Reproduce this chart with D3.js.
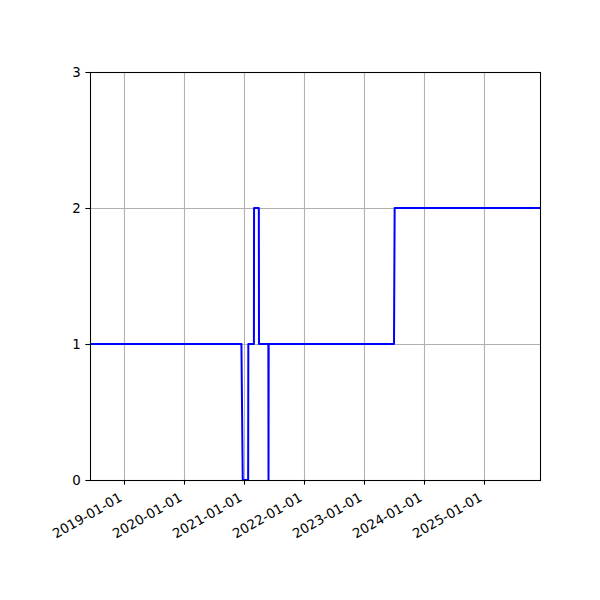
<!DOCTYPE html>
<html>
<head>
<meta charset="utf-8">
<script src="https://cdn.jsdelivr.net/npm/d3@7"></script>
<style>
  body { margin: 0; background: #ffffff; }
  text { font-family: "DejaVu Sans", sans-serif; font-size: 13.33px; fill: #000; }
</style>
</head>
<body>
<div id="chart"></div>
<script>
// data
let stepDates  = ["2018-06-06", "2020-12-14", "2020-12-22", "2021-01-24", "2021-01-25",
                  "2021-02-28", "2021-03-01", "2021-03-30", "2021-03-31", "2021-05-27",
                  "2021-05-28", "2021-05-29", "2023-07-01", "2023-07-05", "2025-12-06"];
let stepValues = [1, 1, 0, 0, 1,
                  1, 2, 2, 1, 1,
                  0, 1, 1, 2, 2];
let xTickDates = ["2019-01-01", "2020-01-01", "2021-01-01", "2022-01-01",
                  "2023-01-01", "2024-01-01", "2025-01-01"];
let yTicks     = [0, 1, 2, 3];
let xDomain    = ["2018-06-06", "2025-12-06"];
let yDomain    = [0, 3];

let W = 600, H = 600;
let pLeft = 90, pRight = 540, pTop = 72, pBottom = 480;
let parse = d3.utcParse("%Y-%m-%d");

let svg = d3.select("#chart").append("svg")
    .attr("width", W)
    .attr("height", H);

svg.append("rect")
    .attr("width", W).attr("height", H)
    .attr("fill", "#ffffff");

let x = d3.scaleUtc()
    .domain(xDomain.map(parse))
    .range([pLeft, pRight]);

let y = d3.scaleLinear()
    .domain(yDomain)
    .range([pBottom, pTop]);

// grid (snapped to pixel centres like matplotlib)
let snap = v => Math.round(v) + 0.5;
let grid = svg.append("g")
    .attr("stroke", "#b0b0b0")
    .attr("stroke-width", 1.07);

grid.selectAll(".gx")
    .data(xTickDates.map(parse))
    .enter().append("line")
        .attr("x1", d => snap(x(d))).attr("x2", d => snap(x(d)))
        .attr("y1", pTop).attr("y2", pBottom);

grid.selectAll(".gy")
    .data(yTicks)
    .enter().append("line")
        .attr("x1", pLeft).attr("x2", pRight)
        .attr("y1", d => snap(y(d))).attr("y2", d => snap(y(d)));

// the series
let pts = stepDates.map((d, i) => ({ date: parse(d), val: stepValues[i] }));

let line = d3.line()
    .x(d => x(d.date))
    .y(d => y(d.val));

svg.append("path")
    .datum(pts)
    .attr("d", line)
    .attr("fill", "none")
    .attr("stroke", "#0000ff")
    .attr("stroke-width", 2)
    .attr("stroke-linejoin", "round");

// axes
let fmt = d3.utcFormat("%Y-%m-%d");

let xAxis = svg.append("g")
    .attr("transform", "translate(0," + pBottom + ")")
    .call(d3.axisBottom(x)
        .tickValues(xTickDates.map(parse))
        .tickFormat(fmt)
        .tickSize(4.67)
        .tickPadding(4.67));

xAxis.select(".domain").remove();
xAxis.selectAll(".tick").attr("transform", d => "translate(" + snap(x(d)) + ",0)");
xAxis.selectAll(".tick line").attr("stroke", "#000").attr("stroke-width", 1.07);
xAxis.selectAll(".tick text")
    .attr("font-size", null)
    .attr("font-family", null)
    .attr("text-anchor", "end")
    .attr("dy", null)
    .attr("y", -3)
    .attr("transform", "translate(0,22.7) rotate(-30)");

let yAxis = svg.append("g")
    .attr("transform", "translate(" + pLeft + ",0)")
    .call(d3.axisLeft(y)
        .tickValues(yTicks)
        .tickFormat(d3.format("d"))
        .tickSize(4.67)
        .tickPadding(4.67));

yAxis.select(".domain").remove();
yAxis.selectAll(".tick").attr("transform", d => "translate(0," + snap(y(d)) + ")");
yAxis.selectAll(".tick line").attr("stroke", "#000").attr("stroke-width", 1.07);
yAxis.selectAll(".tick text")
    .attr("font-size", null)
    .attr("font-family", null);

// frame
svg.append("rect")
    .attr("x", pLeft + 0.5).attr("y", pTop + 0.5)
    .attr("width", pRight - pLeft).attr("height", pBottom - pTop)
    .attr("fill", "none")
    .attr("stroke", "#000")
    .attr("stroke-width", 1.07);
</script>
</body>
</html>
